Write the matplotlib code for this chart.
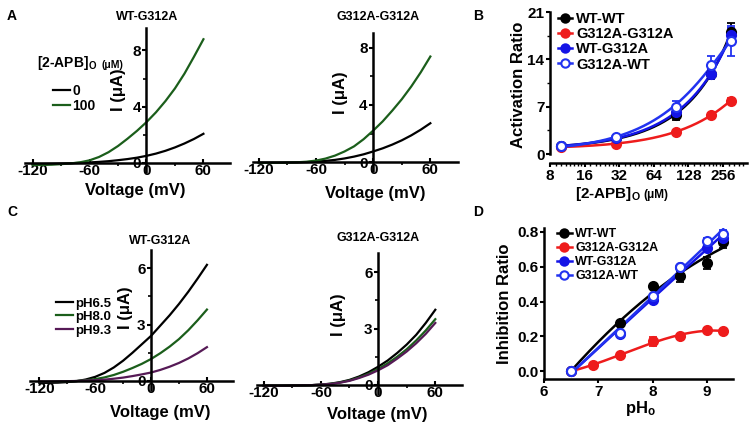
import numpy as np
import matplotlib
matplotlib.use('Agg')
import matplotlib.pyplot as plt
from matplotlib.ticker import MultipleLocator, FixedLocator, FixedFormatter, NullFormatter

plt.rcParams['font.family'] = ['Liberation Sans', 'DejaVu Sans']
plt.rcParams['font.weight'] = 'bold'
plt.rcParams['axes.labelweight'] = 'bold'
plt.rcParams['axes.unicode_minus'] = False
plt.rcParams['mathtext.fontset'] = 'custom'
plt.rcParams['mathtext.rm'] = 'Liberation Sans:bold'
plt.rcParams['mathtext.bf'] = 'Liberation Sans:bold'
plt.rcParams['mathtext.it'] = 'Liberation Sans:bold:italic'

# ---------------- data ----------------
voltage = [-120, -110, -100, -90, -80, -70, -60, -50, -40, -30, -20, -10, 0, 10, 20, 30, 40, 50, 60]

# Panel A: I-V (uA) at [2-APB] 0 and 100 uM
a_wtg_0 = [-0.08, -0.08, -0.07, -0.05, -0.03, 0.0, 0.03, 0.07, 0.12, 0.19, 0.27, 0.37, 0.5, 0.66, 0.86, 1.1, 1.38, 1.7, 2.07]
a_wtg_100 = [-0.15, -0.15, -0.13, -0.09, -0.04, 0.04, 0.18, 0.42, 0.76, 1.2, 1.72, 2.28, 2.9, 3.6, 4.4, 5.3, 6.35, 7.55, 8.8]
a_gg_0 = [-0.05, -0.05, -0.05, -0.04, -0.03, -0.01, 0.03, 0.08, 0.15, 0.25, 0.38, 0.54, 0.74, 0.96, 1.22, 1.52, 1.87, 2.27, 2.72]
a_gg_100 = [-0.06, -0.06, -0.05, -0.04, -0.02, 0.02, 0.1, 0.24, 0.45, 0.74, 1.1, 1.6, 2.2, 2.85, 3.6, 4.4, 5.3, 6.3, 7.4]
apb_labels = ['0', '100']

# Panel C: I-V (uA) at pH 6.5, 8.0, 9.3
c_wtg_65 = [-0.1, -0.1, -0.09, -0.06, -0.01, 0.08, 0.22, 0.43, 0.72, 1.08, 1.5, 1.95, 2.4, 2.95, 3.5, 4.1, 4.75, 5.45, 6.18]
c_wtg_80 = [-0.05, -0.05, -0.04, -0.03, 0.0, 0.04, 0.1, 0.19, 0.32, 0.49, 0.69, 0.91, 1.17, 1.48, 1.83, 2.23, 2.7, 3.23, 3.8]
c_wtg_93 = [-0.03, -0.03, -0.02, -0.01, 0.0, 0.02, 0.04, 0.07, 0.12, 0.18, 0.26, 0.35, 0.45, 0.59, 0.76, 0.96, 1.2, 1.48, 1.8]
c_gg_65 = [-0.04, -0.04, -0.04, -0.03, -0.02, -0.01, 0.02, 0.07, 0.15, 0.27, 0.45, 0.68, 0.97, 1.3, 1.7, 2.15, 2.67, 3.3, 4.0]
c_gg_80 = [-0.04, -0.04, -0.04, -0.03, -0.02, -0.01, 0.02, 0.06, 0.13, 0.24, 0.4, 0.6, 0.85, 1.15, 1.5, 1.9, 2.37, 2.9, 3.5]
c_gg_93 = [-0.04, -0.04, -0.04, -0.03, -0.02, -0.01, 0.02, 0.05, 0.12, 0.22, 0.37, 0.55, 0.78, 1.05, 1.4, 1.78, 2.22, 2.72, 3.3]
ph_labels = ['pH6.5', 'pH8.0', 'pH9.3']

# Panel B: activation ratio vs [2-APB]
dose = [10, 30, 100, 200, 300]
act_wtwt = [1.2, 2.3, 5.8, 11.9, 18.0]
act_wtwt_err = [0.1, 0.2, 0.7, 0.8, 1.3]
act_gg = [1.1, 1.5, 3.2, 5.8, 7.9]
act_gg_err = [0.1, 0.2, 0.3, 0.3, 0.4]
act_wtg = [1.2, 2.3, 6.2, 11.8, 17.6]
act_wtg_err = [0.1, 0.2, 0.6, 0.7, 1.1]
act_gwt = [1.2, 2.5, 7.0, 13.2, 16.7]
act_gwt_err = [0.1, 0.3, 0.8, 1.3, 2.2]
b_xticks = [8, 16, 32, 64, 128, 256]

# Panel D: inhibition ratio vs pH
ph_red = [6.5, 6.9, 7.4, 8.0, 8.5, 9.0, 9.3]
ph_vals = [6.5, 7.4, 8.0, 8.5, 9.0, 9.3]
inh_wtwt = [0.0, 0.275, 0.49, 0.545, 0.62, 0.74]
inh_wtwt_err = [0.0, 0.01, 0.01, 0.03, 0.035, 0.03]
inh_gg = [0.0, 0.035, 0.09, 0.17, 0.2, 0.235, 0.23]
inh_gg_err = [0.0, 0.005, 0.01, 0.025, 0.015, 0.01, 0.01]
inh_wtg = [0.0, 0.215, 0.41, 0.6, 0.71, 0.765]
inh_wtg_err = [0.0, 0.01, 0.01, 0.01, 0.015, 0.02]
inh_gwt = [0.0, 0.22, 0.43, 0.6, 0.75, 0.79]
inh_gwt_err = [0.0, 0.01, 0.01, 0.01, 0.015, 0.02]

series_names = ['WT-WT', 'G312A-G312A', 'WT-G312A', 'G312A-WT']

BLACK = '#000000'
GREEN = '#1b5e1b'
PURPLE = '#561a56'
RED = '#ee1c1c'
BLUE = '#1414e6'
BLUE2 = '#2233f0'

TICK_FS = 11
LABEL_FS = 12
TITLE_FS = 9

W, H = 756, 430
fig = plt.figure(figsize=(W / 100, H / 100), dpi=100)


def add_ax(x0, y0, x1, y1):
    return fig.add_axes([x0 / W, 1 - y1 / H, (x1 - x0) / W, (y1 - y0) / H])


def iv_axes(ax, ylim, ymaj, ymin, xlim):
    ax.set_xlim(*xlim)
    ax.set_ylim(*ylim)
    for s in ['top', 'right']:
        ax.spines[s].set_visible(False)
    ax.spines['left'].set_position(('data', 0))
    ax.spines['bottom'].set_position(('data', 0))
    for s in ['left', 'bottom']:
        ax.spines[s].set_linewidth(1.8)
    ax.xaxis.set_major_locator(FixedLocator([-120, -60, 0, 60]))
    ax.xaxis.set_minor_locator(FixedLocator([-90, -30, 30]))
    ax.yaxis.set_major_locator(MultipleLocator(ymaj))
    ax.yaxis.set_minor_locator(MultipleLocator(ymin))
    ax.set_yticks([t for t in ax.get_yticks() if t >= 0 and t <= ylim[1]])
    ax.tick_params(axis='both', which='major', labelsize=TICK_FS, width=1.5, length=3, pad=1)
    ax.tick_params(axis='both', which='minor', width=1.2, length=2)
    ax.tick_params(axis='x', direction='in')
    for lab in ax.get_xticklabels() + ax.get_yticklabels():
        lab.set_fontweight('bold')
    ax.patch.set_alpha(0)


lw_iv = 1.6

# ---- Panel A left ----
ax = add_ax(25, 28, 230, 172)
iv_axes(ax, (-0.65, 9.6), 4, 2, (-128, 88))
l0, = ax.plot(voltage, a_wtg_0, color=BLACK, lw=lw_iv, label=apb_labels[0])
l1, = ax.plot(voltage, a_wtg_100, color=GREEN, lw=lw_iv, label=apb_labels[1])
ax.set_ylabel('I (μA)', fontsize=LABEL_FS)
ax.yaxis.set_label_coords((126 - 25) / 205, (172 - 90) / 144)
ax.legend(handles=[l0, l1], loc='upper left', bbox_to_anchor=(0.11, 0.65), frameon=False,
          fontsize=10, handlelength=1.2, handletextpad=0.2, labelspacing=0.05, borderaxespad=0)
fig.text(37 / W, 1 - 63 / H, r'[2-APB]$_\mathbf{O}$', fontsize=10, fontweight='bold', va='center')
fig.text(101 / W, 1 - 65 / H, '(μM)', fontsize=7.5, fontweight='bold', va='center')
fig.text(147 / W, 1 - 17 / H, 'WT-G312A', fontsize=TITLE_FS, fontweight='bold', ha='center', va='center')
fig.text(135 / W, 1 - 190 / H, 'Voltage (mV)', fontsize=LABEL_FS, fontweight='bold', ha='center', va='center')

# ---- Panel A right ----
ax = add_ax(253, 33, 458, 171)
iv_axes(ax, (-0.63, 9.05), 4, 2, (-126, 89))
ax.plot(voltage, a_gg_0, color=BLACK, lw=lw_iv)
ax.plot(voltage, a_gg_100, color=GREEN, lw=lw_iv)
ax.set_ylabel('I (μA)', fontsize=LABEL_FS)
ax.yaxis.set_label_coords((348 - 253) / 205, (171 - 93) / 138)
fig.text(378 / W, 1 - 17 / H, 'G312A-G312A', fontsize=TITLE_FS, fontweight='bold', ha='center', va='center')
fig.text(375 / W, 1 - 193 / H, 'Voltage (mV)', fontsize=LABEL_FS, fontweight='bold', ha='center', va='center')

# ---- Panel C left ----
ax = add_ax(30, 250, 233, 390)
iv_axes(ax, (-0.48, 6.97), 3, 1.5, (-130, 88))
h1, = ax.plot(voltage, c_wtg_65, color=BLACK, lw=lw_iv, label=ph_labels[0])
h2, = ax.plot(voltage, c_wtg_80, color=GREEN, lw=lw_iv, label=ph_labels[1])
h3, = ax.plot(voltage, c_wtg_93, color=PURPLE, lw=lw_iv, label=ph_labels[2])
ax.set_ylabel('I (μA)', fontsize=LABEL_FS)
ax.yaxis.set_label_coords((133 - 30) / 203, (390 - 308) / 140)
ax.legend(handles=[h1, h2, h3], loc='upper left', bbox_to_anchor=(0.1, 0.7), frameon=False,
          fontsize=9.5, handlelength=1.3, handletextpad=0.2, labelspacing=0.1, borderaxespad=0)
fig.text(160 / W, 1 - 241 / H, 'WT-G312A', fontsize=TITLE_FS, fontweight='bold', ha='center', va='center')
fig.text(160 / W, 1 - 413 / H, 'Voltage (mV)', fontsize=LABEL_FS, fontweight='bold', ha='center', va='center')

# ---- Panel C right ----
ax = add_ax(257, 253, 462, 394)
iv_axes(ax, (-0.48, 7.02), 3, 1.5, (-127, 88))
ax.plot(voltage, c_gg_65, color=BLACK, lw=lw_iv)
ax.plot(voltage, c_gg_80, color=GREEN, lw=lw_iv)
ax.plot(voltage, c_gg_93, color=PURPLE, lw=lw_iv)
ax.set_ylabel('I (μA)', fontsize=LABEL_FS)
ax.yaxis.set_label_coords((346 - 257) / 205, (394 - 315) / 141)
fig.text(378 / W, 1 - 238 / H, 'G312A-G312A', fontsize=TITLE_FS, fontweight='bold', ha='center', va='center')
fig.text(377 / W, 1 - 414 / H, 'Voltage (mV)', fontsize=LABEL_FS, fontweight='bold', ha='center', va='center')


def fit_curve(x, y, deg, xs, logx=False):
    xx = np.log(x) if logx else np.asarray(x, float)
    p = np.polyfit(xx, y, deg)
    return np.polyval(p, np.log(xs) if logx else xs)


# ---- Panel B ----
ax = add_ax(550, 12, 747, 157.4)
ax.set_xscale('log', base=2)
xmax = 8 * 2 ** ((747 - 550) / 34.6)
ax.set_xlim(8, xmax)
ax.set_ylim(-0.5, 21)
xs = np.linspace(dose[0], dose[-1], 200)
specs = [
    (act_wtwt, act_wtwt_err, BLACK, BLACK, series_names[0]),
    (act_gg, act_gg_err, RED, RED, series_names[1]),
    (act_wtg, act_wtg_err, BLUE, BLUE, series_names[2]),
    (act_gwt, act_gwt_err, BLUE2, 'white', series_names[3]),
]
handles = []
for vals, err, col, fc, name in specs:
    ax.plot(xs, fit_curve(dose, vals, 2, xs), color=col, lw=1.8, zorder=2)
    ax.errorbar(dose, vals, yerr=err, fmt='none', ecolor=col, elinewidth=1.3, capsize=3, capthick=1.3, zorder=3)
    ax.plot(dose, vals, 'o', ms=6.5, mfc=fc, mec=col, mew=1.5, zorder=4)
    h, = ax.plot([], [], '-o', color=col, ms=6, mfc=fc, mec=col, mew=1.5, lw=1.8, label=name)
    handles.append(h)
for s in ['top', 'right']:
    ax.spines[s].set_visible(False)
for s in ['left', 'bottom']:
    ax.spines[s].set_linewidth(1.8)
ax.spines['bottom'].set_position(('outward', 4))
ax.spines['left'].set_bounds(0, 21)
ax.xaxis.set_major_locator(FixedLocator(b_xticks))
ax.xaxis.set_major_formatter(FixedFormatter([str(t) for t in b_xticks]))
minor = [m * 2 ** k for k in range(0, 6) for m in [9, 10, 11, 12, 13, 14, 15]]
ax.xaxis.set_minor_locator(FixedLocator(minor))
ax.xaxis.set_minor_formatter(NullFormatter())
ax.set_yticks([0, 7, 14, 21])
ax.yaxis.set_minor_locator(FixedLocator([3.5, 10.5, 17.5]))
ax.tick_params(axis='both', which='major', labelsize=TICK_FS, width=1.5, length=3, pad=1)
ax.tick_params(axis='both', which='minor', width=1.0, length=2)
ax.set_ylabel('Activation Ratio', fontsize=LABEL_FS)
ax.yaxis.set_label_coords(-0.12, 0.5)
fig.text(641 / W, 1 - 194 / H, r'[2-APB]$_\mathbf{O}$', fontsize=11, fontweight='bold', ha='right', va='center')
fig.text(643 / W, 1 - 195 / H, '(μM)', fontsize=8.5, fontweight='bold', ha='left', va='center')
ax.legend(handles=handles, loc='upper left', bbox_to_anchor=(0.01, 1.04), frameon=False,
          fontsize=10.5, handlelength=1.0, handletextpad=0.25, labelspacing=0.08, borderaxespad=0)

# ---- Panel D ----
ax = add_ax(544, 228, 733, 379)
ax.set_xlim(6, 9.48)
ax.set_ylim(-0.046, 0.823)
dspecs = [
    (ph_vals, inh_wtwt, inh_wtwt_err, BLACK, BLACK, series_names[0], 2),
    (ph_red, inh_gg, inh_gg_err, RED, RED, series_names[1], 3),
    (ph_vals, inh_wtg, inh_wtg_err, BLUE, BLUE, series_names[2], 2),
    (ph_vals, inh_gwt, inh_gwt_err, BLUE2, 'white', series_names[3], 2),
]
handles = []
for xv, vals, err, col, fc, name, deg in dspecs:
    xs = np.linspace(xv[0], xv[-1], 200)
    ax.plot(xs, fit_curve(xv, vals, deg, xs), color=col, lw=1.8, zorder=2)
    ax.errorbar(xv, vals, yerr=err, fmt='none', ecolor=col, elinewidth=1.3, capsize=3, capthick=1.3, zorder=3)
    ax.plot(xv, vals, 'o', ms=6.5, mfc=fc, mec=col, mew=1.5, zorder=4)
    h, = ax.plot([], [], '-o', color=col, ms=6, mfc=fc, mec=col, mew=1.5, lw=1.8, label=name)
    handles.append(h)
for s in ['top', 'right']:
    ax.spines[s].set_visible(False)
for s in ['left', 'bottom']:
    ax.spines[s].set_linewidth(1.8)
ax.set_xticks([6, 7, 8, 9])
ax.set_yticks([0.0, 0.2, 0.4, 0.6, 0.8])
ax.set_yticklabels(['0.0', '0.2', '0.4', '0.6', '0.8'])
ax.tick_params(axis='both', which='major', labelsize=TICK_FS, width=1.5, length=3, pad=1)
ax.set_ylabel('Inhibition Ratio', fontsize=LABEL_FS)
ax.yaxis.set_label_coords(-0.17, 0.5)
fig.text(640 / W, 1 - 408 / H, r'pH$_\mathbf{o}$', fontsize=LABEL_FS, fontweight='bold', ha='center', va='center')
ax.legend(handles=handles, loc='upper left', bbox_to_anchor=(0.04, 1.03), frameon=False,
          fontsize=9, handlelength=1.2, handletextpad=0.3, labelspacing=0.15, borderaxespad=0)

# panel letters
for ch, x, y in [('A', 12, 16), ('B', 478, 16), ('C', 12, 212), ('D', 478, 212)]:
    fig.text(x / W, 1 - y / H, ch, fontsize=10, fontweight='bold', ha='center', va='center')

fig.savefig('out.png', dpi=100)
